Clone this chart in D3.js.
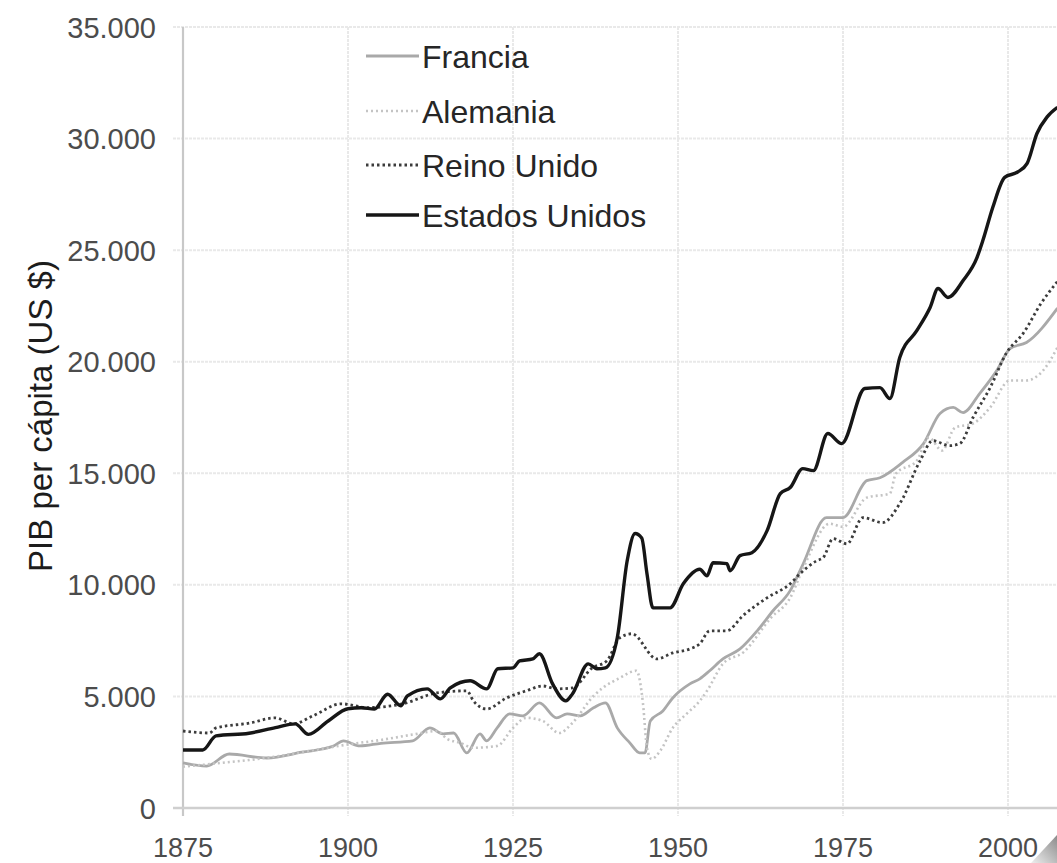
<!DOCTYPE html>
<html>
<head>
<meta charset="utf-8">
<script src="https://cdn.jsdelivr.net/npm/d3@7"></script>
<style>
  html, body { margin: 0; padding: 0; background: #fff; }
  svg { display: block; font-family: "Liberation Sans", Arial, sans-serif; }
</style>
</head>
<body>
<div id="chart"></div>
<script>
// Values: [year, GDP per capita in US $]
const francia = [
  [1875, 2020], [1878.6, 1880], [1882, 2420], [1887.7, 2240], [1893, 2500], [1897.8, 2780],
  [1899.3, 3010], [1901.8, 2780], [1905, 2900], [1909.8, 3010], [1912.4, 3590], [1914.4, 3320],
  [1916, 3360], [1918, 2470], [1920, 3320], [1921, 3010], [1922.6, 3590], [1924.5, 4220],
  [1926.5, 4130], [1929, 4710], [1931.6, 4040], [1933.2, 4220], [1935.2, 4130], [1937.2, 4490],
  [1939, 4710], [1940.8, 3590], [1942.7, 2920], [1944.2, 2470], [1945, 2470], [1945.8, 3900],
  [1947.7, 4350], [1949.2, 4930], [1951.8, 5560], [1953.3, 5790], [1954.8, 6150], [1956.8, 6680],
  [1959.4, 7130], [1962, 7940], [1964.4, 8840], [1967, 9740], [1968.9, 10900], [1972.5, 13010],
  [1975, 13010], [1978.6, 14670], [1980.6, 14800], [1984, 15480], [1987.2, 16330], [1989.7, 17680],
  [1991.7, 17950], [1993.2, 17720], [1995.7, 18570], [1998.3, 19600], [2000.3, 20590],
  [2002.8, 20860], [2007.5, 22400]
];
const alemania = [
  [1875, 1850], [1880, 2000], [1885, 2150], [1890, 2350], [1895, 2600], [1900, 2850], [1905, 3050],
  [1910, 3300], [1913.5, 3450], [1915, 3100], [1917, 2920], [1919, 2700], [1922.6, 2780],
  [1925, 3590], [1927, 4040], [1929.5, 3900], [1932, 3360], [1934, 3810], [1937.2, 5020],
  [1938.6, 5380], [1941.2, 5830], [1943.7, 6150], [1944.7, 4670], [1945.3, 2690], [1946, 2200],
  [1947.3, 2560], [1949.2, 3590], [1951.3, 4220], [1953.3, 4800], [1954.4, 5250], [1956.8, 6460],
  [1960, 7000], [1964, 8500], [1967, 9420], [1969, 10770], [1973, 12740], [1975, 12600],
  [1978.6, 13910], [1982.1, 14090], [1983, 14980], [1986.2, 15570], [1988, 16600], [1990, 16020],
  [1992, 17050], [1994.7, 17230], [1997.3, 17950], [2000.3, 19160], [2002.8, 19160],
  [2005.3, 19600], [2007.5, 20640]
];
const reinoUnido = [
  [1875, 3450], [1879, 3360], [1880, 3590], [1885, 3800], [1889, 4040], [1891.7, 3770],
  [1894.7, 4130], [1899, 4670], [1903, 4500], [1908.3, 4670], [1913.5, 5160], [1918, 5250],
  [1919, 4800], [1921, 4440], [1924, 4930], [1927, 5250], [1929.5, 5470], [1931.6, 5340],
  [1934, 5380], [1937, 6280], [1939.2, 6590], [1941.2, 7630], [1943, 7810], [1946.8, 6680],
  [1949.2, 6950], [1951.8, 7130], [1953.3, 7360], [1954.8, 7940], [1957.4, 7940], [1959.8, 8610],
  [1963.5, 9420], [1967, 10050], [1968.5, 10500], [1971, 11080], [1972, 11220], [1973.5, 12070],
  [1975.6, 11840], [1978, 13010], [1981, 12790], [1983.6, 13640], [1986.7, 15570], [1988.6, 16460],
  [1991.2, 16240], [1992.7, 16330], [1994.7, 17500], [1997.3, 18840], [1999.8, 20410],
  [2002.3, 21270], [2005, 22610], [2007.5, 23600]
];
const estadosUnidos = [
  [1875, 2600], [1878, 2600], [1880, 3230], [1885, 3350], [1889, 3600], [1892, 3770], [1894, 3300],
  [1897, 3900], [1900, 4450], [1902, 4490], [1904, 4440], [1906, 5100], [1908, 4580], [1909, 5020],
  [1912, 5340], [1914, 4890], [1915.5, 5380], [1918.5, 5700], [1921, 5340], [1922.7, 6240],
  [1925, 6280], [1926, 6590], [1928, 6680], [1929, 6910], [1931, 5560], [1933, 4800], [1934, 5110],
  [1936.4, 6460], [1937.7, 6240], [1939, 6280], [1940.8, 7630], [1942.3, 11080], [1943.5, 12300],
  [1944.5, 12100], [1945.3, 10500], [1946.2, 8970], [1948.8, 8970], [1950.8, 10050],
  [1953.3, 10700], [1954.4, 10410], [1955.3, 10990], [1957.4, 10950], [1957.9, 10630],
  [1959.4, 11310], [1961.2, 11440], [1963.5, 12430], [1965.5, 14090], [1967, 14360],
  [1968.9, 15210], [1970.5, 15120], [1972.7, 16780], [1974.8, 16330], [1978.3, 18800],
  [1980.6, 18840], [1982.1, 18350], [1983.6, 20190], [1986.2, 21400], [1988.2, 22430],
  [1989.4, 23280], [1990.9, 22880], [1993.2, 23640], [1995.3, 24670], [1996.2, 25440],
  [1997.7, 26920], [1999.5, 28260], [2001.4, 28490], [2002.9, 28890], [2004.4, 30240],
  [2005.9, 30960], [2007.5, 31400]
];

const xTicks = [1875, 1900, 1925, 1950, 1975, 2000];
const yTicks = [0, 5000, 10000, 15000, 20000, 25000, 30000, 35000];
const seriesNames = ["Francia", "Alemania", "Reino Unido", "Estados Unidos"];
const yTitle = "PIB per cápita (US $)";

const width = 1057, height = 863;

const series = [
  { name: seriesNames[0], values: francia, color: "#a9a9a9", width: 2.8, dash: null },
  { name: seriesNames[1], values: alemania, color: "#c4c4c4", width: 2.6, dash: "2,3" },
  { name: seriesNames[2], values: reinoUnido, color: "#3c3c3c", width: 2.8, dash: "2.5,3" },
  { name: seriesNames[3], values: estadosUnidos, color: "#161616", width: 3.4, dash: null }
];

const locale = d3.formatLocale({ decimal: ",", thousands: ".", grouping: [3], currency: ["", "$"] });
const fmt = locale.format(",d");

const x = d3.scaleLinear().domain([1875, 2000]).range([183, 1008]);
const y = d3.scaleLinear().domain([0, 35000]).range([808, 27]);

const svg = d3.select("#chart").append("svg")
  .attr("width", width)
  .attr("height", height);

svg.append("rect").attr("width", width).attr("height", height).attr("fill", "#fff");

/**
 * Grid lines (light, dotted)
 */
const grid = svg.append("g").attr("class", "grid");
grid.selectAll("line.h")
  .data(yTicks.filter(d => d > 0))
  .join("line")
  .attr("class", "h")
  .attr("x1", 173).attr("x2", width)
  .attr("y1", d => y(d)).attr("y2", d => y(d))
  .attr("stroke", "#e9e9e9").attr("stroke-width", 2).attr("stroke-dasharray", "3,1");

grid.selectAll("line.v")
  .data(xTicks.filter(d => d > 1875))
  .join("line")
  .attr("class", "v")
  .attr("x1", d => x(d)).attr("x2", d => x(d))
  .attr("y1", y(35000)).attr("y2", y(0) + 8)
  .attr("stroke", "#e9e9e9").attr("stroke-width", 2).attr("stroke-dasharray", "3,1");

// Axis lines
svg.append("line")
  .attr("x1", x(1875)).attr("x2", x(1875))
  .attr("y1", y(35000)).attr("y2", y(0) + 8)
  .attr("stroke", "#c8c8c8").attr("stroke-width", 2.2);
svg.append("line")
  .attr("x1", 173).attr("x2", width)
  .attr("y1", y(0)).attr("y2", y(0))
  .attr("stroke", "#cfcfcf").attr("stroke-width", 2.6);

// Y tick labels
svg.append("g").selectAll("text")
  .data(yTicks)
  .join("text")
  .attr("x", 156)
  .attr("y", d => y(d) + 10.5)
  .attr("text-anchor", "end")
  .attr("font-size", 29)
  .attr("fill", "#4c4c4c")
  .text(d => fmt(d));

// X tick labels
svg.append("g").selectAll("text")
  .data(xTicks)
  .join("text")
  .attr("x", d => x(d))
  .attr("y", 857)
  .attr("text-anchor", "middle")
  .attr("font-size", 27)
  .attr("fill", "#4c4c4c")
  .text(d => d);

// Y axis title
svg.append("text")
  .attr("transform", "translate(52,416) rotate(-90)")
  .attr("text-anchor", "middle")
  .attr("font-size", 33)
  .attr("fill", "#1c1c1c")
  .text(yTitle);

/**
 * Series lines
 */
const line = d3.line()
  .x(d => x(d[0]))
  .y(d => y(d[1]))
  .curve(d3.curveMonotoneX);

svg.append("g").selectAll("path")
  .data(series)
  .join("path")
  .attr("d", d => line(d.values))
  .attr("fill", "none")
  .attr("stroke", d => d.color)
  .attr("stroke-width", d => d.width)
  .attr("stroke-dasharray", d => d.dash)
  .attr("stroke-linejoin", "round");

/**
 * Legend
 */
const legendRows = [56, 111, 165, 215];
const legend = svg.append("g").selectAll("g")
  .data(series)
  .join("g")
  .attr("transform", (d, i) => `translate(0,${legendRows[i]})`);
legend.append("line")
  .attr("x1", 366).attr("x2", 419)
  .attr("stroke", d => d.color)
  .attr("stroke-width", d => d.width)
  .attr("stroke-dasharray", d => d.dash);
legend.append("text")
  .attr("x", 422)
  .attr("y", 11.5)
  .attr("font-size", 32)
  .attr("fill", "#262626")
  .text(d => d.name);

// page-curl shading in the bottom right corner
const grad = svg.append("defs").append("linearGradient")
  .attr("id", "curl").attr("x1", "0%").attr("y1", "100%").attr("x2", "100%").attr("y2", "0%");
grad.append("stop").attr("offset", "0%").attr("stop-color", "#eeeeee");
grad.append("stop").attr("offset", "100%").attr("stop-color", "#8a8a8a");
svg.append("path")
  .attr("d", `M${width - 26},${height} L${width},${height - 28} L${width},${height} Z`)
  .attr("fill", "url(#curl)");
</script>
</body>
</html>
